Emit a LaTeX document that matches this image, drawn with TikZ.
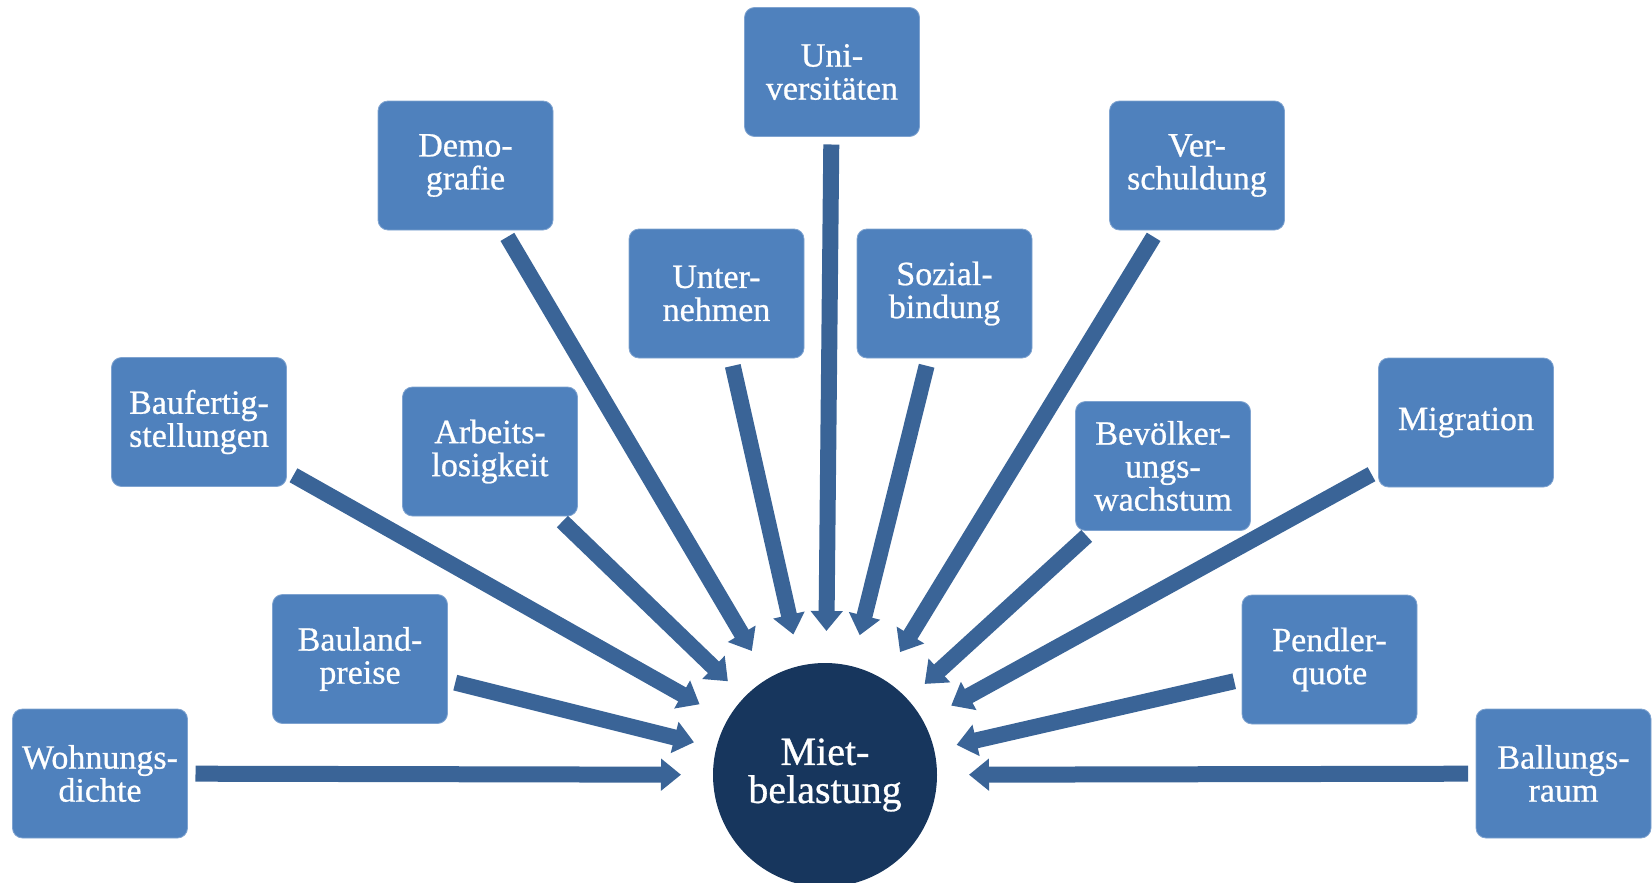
\documentclass[tikz,border=0pt]{standalone}
\usepackage{fontspec}
\setmainfont{Liberation Serif}
\newfontfamily\diagfont{Liberation Serif}[RawFeature={embolden=0.7}]
\usetikzlibrary{arrows.meta}
\definecolor{boxblue}{HTML}{4F81BD}
\definecolor{boxedge}{HTML}{7FA3D0}
\definecolor{arrowblue}{HTML}{3A6497}
\definecolor{hubnavy}{HTML}{17365D}
\begin{document}
\begin{tikzpicture}[x=1pt,y=-1pt,
  factor/.style={rectangle, rounded corners=10pt, fill=boxblue, draw=boxedge, line width=0.8pt,
    minimum width=175pt, minimum height=129pt, text=white, align=center,
    font=\diagfont\fontsize{34}{33}\selectfont, inner sep=0pt, outer sep=0pt},
  hub/.style={circle, fill=hubnavy, minimum size=224pt, inner sep=0pt, outer sep=0pt,
    text=white, align=center, font=\diagfont\fontsize{40}{38}\selectfont},
  arr/.style={-{Triangle[width=31pt,length=20pt]}, line width=16pt, draw=arrowblue,
    shorten <=8pt, shorten >=32pt},
  near/.style={shorten >=23pt}
]
\useasboundingbox (0,0) rectangle (1652,883);

\node[hub] (mb) at (825,775) {Miet-\\belastung};

\node[factor] (wd) at (100,773.5)  {Wohnungs-\\dichte};
\node[factor] (bp) at (360,659)    {Bauland-\\preise};
\node[factor] (bf) at (199,422)    {Baufertig-\\stellungen};
\node[factor] (al) at (490,451.5)  {Arbeits-\\losigkeit};
\node[factor] (dg) at (465.5,165.5){Demo-\\grafie};
\node[factor] (un) at (716.5,293.5){Unter-\\nehmen};
\node[factor] (uv) at (832,72)     {Uni-\\versitäten};
\node[factor] (sb) at (944.5,293.5){Sozial-\\bindung};
\node[factor] (vs) at (1197,165.5) {Ver-\\schuldung};
\node[factor] (bw) at (1163,466)   {Bevölker-\\ungs-\\wachstum};
\node[factor] (mg) at (1466,422.5) {Migration};
\node[factor] (pq) at (1329.5,659.5){Pendler-\\quote};
\node[factor] (br) at (1563.5,773.5){Ballungs-\\raum};

\foreach \n in {wd,bf,dg,un,uv,sb,vs,mg,br}
  \draw[arr] (\n) -- (mb);
\foreach \n in {bp,al,bw,pq}
  \draw[arr,near] (\n) -- (mb);
\end{tikzpicture}
\end{document}
